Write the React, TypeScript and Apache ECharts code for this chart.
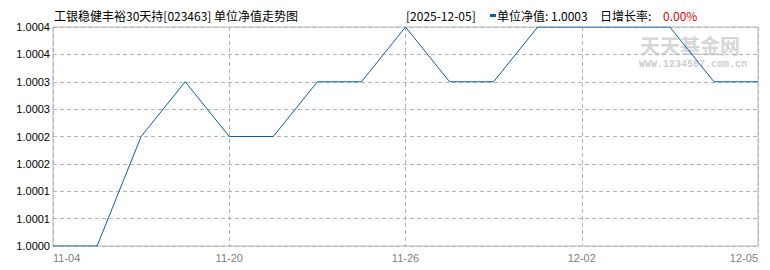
import React, { useEffect, useRef } from "react";
import * as echarts from "echarts";

const tickLabels = ["11-04", "11-20", "11-26", "12-02", "12-05"];
const navValues = [
  1.0, 1.0, 1.0002, 1.0003, 1.0002, 1.0002, 1.0003, 1.0003, 1.0004, 1.0003, 1.0003, 1.0004, 1.0004,
  1.0004, 1.0004, 1.0003, 1.0003,
];
const fundTitle = "工银稳健丰裕30天持[023463] 单位净值走势图";
const latestDate = "[2025-12-05]";
const latestNav = "单位净值: 1.0003";
const growthLabel = "日增长率:";
const growthValue = "0.00%";

const LINE = "#0d5ca8";

export default function App() {
  const ref = useRef<HTMLDivElement>(null);
  useEffect(() => {
    if (!ref.current) return;
    const chart = echarts.init(ref.current, null, { renderer: "svg" });
    const cjk = "'Noto Sans CJK SC', 'Liberation Sans', sans-serif";
    chart.setOption({
      animation: false,
      backgroundColor: "#ffffff",
      grid: {
        left: 53,
        top: 27,
        width: 705,
        height: 219,
        show: true,
        borderColor: "#b8b8b8",
        borderWidth: 1,
        containLabel: false,
      },
      xAxis: {
        type: "value",
        min: 0,
        max: navValues.length - 1,
        interval: 4,
        axisLine: { show: false },
        axisTick: { show: false },
        axisLabel: {
          color: "#808080",
          fontSize: 11,
          fontFamily: "'Liberation Sans', sans-serif",
          margin: 6,
          alignMinLabel: "left",
          alignMaxLabel: "right",
          formatter: (v: number) => tickLabels[Math.round(v / 4)] ?? "",
        },
        splitLine: { show: true, lineStyle: { color: "#b4b4b4", type: [4, 3], width: 1 } },
      },
      yAxis: {
        type: "value",
        min: 1.0,
        max: 1.0004,
        interval: 0.00005,
        axisLine: { show: false },
        axisTick: { show: false },
        axisLabel: {
          color: "#000000",
          fontSize: 11,
          fontFamily: "'Liberation Sans', sans-serif",
          margin: 3,
          formatter: (v: number) => {
            const n = Math.round((v - 1) * 1e5);
            return (1 + Math.round(n / 10 + 0.001) / 1e4).toFixed(4);
          },
        },
        splitLine: { show: true, lineStyle: { color: "#b4b4b4", type: [4, 3], width: 1 } },
      },
      graphic: [
        {
          type: "text",
          left: 54,
          top: 9,
          style: { text: fundTitle, font: `12px ${cjk}`, fill: "#000000" },
        },
        {
          type: "text",
          left: 406,
          top: 9,
          style: { text: latestDate, font: `12px ${cjk}`, fill: "#000000" },
        },
        {
          type: "rect",
          shape: { x: 490, y: 14, width: 6, height: 3 },
          style: { fill: LINE },
        },
        {
          type: "text",
          left: 497,
          top: 9,
          style: { text: latestNav, font: `12px ${cjk}`, fill: "#000000" },
        },
        {
          type: "text",
          left: 600,
          top: 9,
          style: { text: growthLabel, font: `12px ${cjk}`, fill: "#000000" },
        },
        {
          type: "text",
          left: 663,
          top: 9,
          style: { text: growthValue, font: `12px ${cjk}`, fill: "#e00000" },
        },
        {
          type: "text",
          left: 640,
          top: 35,
          z: -1,
          style: {
            text: "天天基金网",
            font: `bold 20px ${cjk}`,
            fill: "#cfcfcf",
            opacity: 0.85,
          },
        },
        {
          type: "text",
          left: 639,
          top: 59,
          z: -1,
          style: {
            text: "WWW.1234567.com.cn",
            font: "bold 10px 'Liberation Mono', monospace",
            fill: "#c4c4c4",
            opacity: 0.85,
          },
        },
      ],
      series: [
        {
          type: "line",
          data: navValues.map((v, i) => [i, v]),
          showSymbol: false,
          symbol: "none",
          lineStyle: { color: LINE, width: 1 },
          itemStyle: { color: LINE },
          z: 3,
        },
      ],
    });
    return () => chart.dispose();
  }, []);
  return (
    <div
      ref={ref}
      style={{ position: "fixed", left: 0, top: 0, width: 770, height: 270, background: "#fff" }}
    />
  );
}
